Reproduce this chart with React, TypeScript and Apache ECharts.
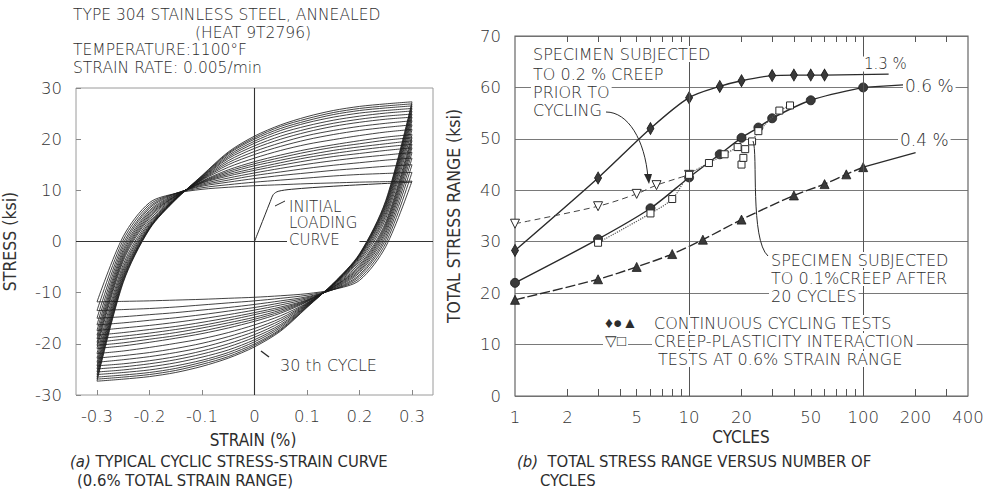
import React, { useEffect, useRef } from "react";
import * as echarts from "echarts";

const FONT = '"DejaVu Sans", "Liberation Sans", sans-serif';
const NARROW = '"Liberation Sans Narrow", "DejaVu Sans Condensed", "Liberation Sans", sans-serif';
const INK = "#2a2a2a";

// ---------- (a) cyclic stress-strain loops ----------
const strainTicks = [-0.3, -0.2, -0.1, 0, 0.1, 0.2, 0.3];
const stressTicks = [-30, -20, -10, 0, 10, 20, 30];
const branchStrain = [-0.3, -0.25, -0.2, -0.15, -0.1, -0.05, 0, 0.05, 0.1, 0.15, 0.2, 0.25, 0.3];
const loopCycles = [1, 2, 3, 4, 5, 6, 7, 8, 9, 10, 12, 14, 16, 18, 20, 22, 24, 26, 28, 30];
// stress (ksi) of the rising branch of each loop at branchStrain; the falling
// branch is the same curve turned about the origin (the loops are point-symmetric)
const upperBranchStress = [
  [-11.8, 1.0, 7.6, 9.4, 10.2, 10.6, 10.9, 11.1, 11.3, 11.45, 11.6, 11.7, 11.8],
  [-13.5, 0.3, 7.2, 9.4, 10.5, 11.1, 11.6, 12.0, 12.4, 12.8, 13.1, 13.3, 13.5],
  [-15.0, -0.4, 6.8, 9.4, 10.8, 11.6, 12.3, 12.9, 13.4, 13.9, 14.3, 14.7, 15.0],
  [-16.3, -1.0, 6.5, 9.3, 11.0, 12.0, 12.9, 13.6, 14.3, 14.9, 15.4, 15.9, 16.3],
  [-17.4, -1.6, 6.1, 9.2, 11.2, 12.4, 13.4, 14.3, 15.1, 15.8, 16.4, 16.9, 17.4],
  [-18.3, -2.1, 5.8, 9.1, 11.4, 12.8, 13.9, 14.9, 15.8, 16.6, 17.2, 17.8, 18.3],
  [-19.0, -2.6, 5.5, 9.0, 11.5, 13.1, 14.3, 15.4, 16.4, 17.2, 17.9, 18.5, 19.0],
  [-19.7, -3.0, 5.2, 8.9, 11.6, 13.4, 14.8, 15.9, 16.9, 17.8, 18.5, 19.1, 19.7],
  [-20.3, -3.4, 4.9, 8.9, 11.7, 13.7, 15.2, 16.4, 17.5, 18.4, 19.1, 19.8, 20.3],
  [-20.9, -3.8, 4.6, 8.8, 11.8, 14.0, 15.6, 16.9, 18.0, 18.9, 19.7, 20.4, 20.9],
  [-21.9, -4.5, 4.2, 8.7, 12.0, 14.5, 16.3, 17.8, 19.0, 19.9, 20.7, 21.4, 21.9],
  [-22.8, -5.1, 3.8, 8.6, 12.1, 15.0, 17.0, 18.6, 19.9, 20.9, 21.7, 22.3, 22.8],
  [-23.6, -5.6, 3.5, 8.5, 12.2, 15.4, 17.6, 19.3, 20.7, 21.7, 22.5, 23.1, 23.6],
  [-24.3, -6.1, 3.2, 8.5, 12.3, 15.8, 18.2, 20.0, 21.4, 22.5, 23.3, 23.9, 24.3],
  [-24.9, -6.5, 3.0, 8.4, 12.4, 16.2, 18.7, 20.6, 22.0, 23.1, 23.9, 24.5, 24.9],
  [-25.5, -6.9, 2.8, 8.4, 12.5, 16.5, 19.2, 21.2, 22.6, 23.7, 24.5, 25.1, 25.5],
  [-26.0, -7.2, 2.7, 8.3, 12.6, 16.8, 19.6, 21.7, 23.2, 24.3, 25.1, 25.6, 26.0],
  [-26.5, -7.5, 2.6, 8.3, 12.7, 17.1, 20.0, 22.1, 23.6, 24.8, 25.6, 26.1, 26.5],
  [-26.9, -7.8, 2.5, 8.2, 12.8, 17.3, 20.3, 22.5, 24.0, 25.2, 26.0, 26.5, 26.9],
  [-27.3, -8.0, 2.4, 8.2, 12.9, 17.5, 20.6, 22.8, 24.4, 25.6, 26.4, 26.9, 27.3],
];
const initialStrain = [0, 0.01, 0.02, 0.03, 0.036, 0.045, 0.07, 0.15, 0.3];
const initialStress = [0, 2.6, 5.2, 7.8, 9.2, 9.8, 10.2, 10.8, 11.6];

// ---------- (b) total stress range vs cycles ----------
const cycleLabels = [1, 2, 5, 10, 20, 50, 100, 200, 400];
const minorCycleTicks = [2, 3, 4, 5, 6, 7, 8, 9, 20, 30, 40, 50, 60, 70, 80, 90, 200, 300];
const rangeTicks = [0, 10, 20, 30, 40, 50, 60, 70];

const n13 = [1, 3, 6, 10, 15, 20, 30, 40, 50, 60];
const s13 = [28.3, 42.4, 52.0, 58.0, 60.2, 61.3, 62.3, 62.4, 62.4, 62.4];
const n13Lead = [60, 140];
const s13Lead = [62.4, 62.6];

const n06 = [1, 3, 6, 10, 15, 20, 25, 30, 50, 100];
const s06 = [22.0, 30.5, 36.5, 42.5, 47.0, 50.2, 52.2, 54.0, 57.5, 60.0];
const n06Lead = [100, 170];
const s06Lead = [60.0, 60.5];

const n04 = [1, 3, 5, 8, 12, 20, 40, 60, 80, 100];
const s04 = [18.7, 22.7, 25.1, 27.6, 30.4, 34.3, 39.0, 41.2, 43.1, 44.5];
const n04Lead = [100, 200];
const s04Lead = [44.5, 47.3];

const nPreCreep = [1, 3, 5, 6.5, 10];
const sPreCreep = [33.5, 36.9, 39.3, 41.0, 43.0];
const nCreepMain = [3, 6, 8, 10, 13, 16, 19];
const sCreepMain = [29.8, 35.5, 38.3, 43.0, 45.3, 47.0, 48.4];
const nCreepAfter = [20, 20.5, 21, 23, 25, 33, 38];
const sCreepAfter = [45.0, 46.3, 48.0, 49.5, 51.5, 55.5, 56.5];

const zip = (a: number[], b: number[]) => a.map((v, i) => [v, b[i]]);

function buildOption() {
  const series: any[] = [];

  loopCycles.forEach((c, i) => {
    const up = zip(branchStrain, upperBranchStress[i]);
    const down = up.map(([e, s]) => [-e, -s]).reverse();
    [up, down].forEach((d, k) => {
      series.push({
        type: "line",
        name: `cycle ${c} ${k ? "down" : "up"}`,
        xAxisIndex: 0,
        yAxisIndex: 0,
        data: d,
        showSymbol: false,
        smooth: 0.3,
        lineStyle: { color: "#1c1c1c", width: 0.9, opacity: 0.92 },
        silent: true,
        z: 3,
      });
    });
  });

  series.push({
    type: "line",
    name: "initial loading",
    xAxisIndex: 0,
    yAxisIndex: 0,
    data: zip(initialStrain, initialStress),
    showSymbol: false,
    smooth: 0.3,
    lineStyle: { color: INK, width: 1 },
    z: 3,
    markLine: {
      silent: true,
      symbol: "none",
      label: { show: false },
      lineStyle: { color: "#333", width: 1.1, type: "solid" },
      data: [{ xAxis: 0 }, { yAxis: 0 }],
    },
  });

  const filled = (name: string, n: number[], s: number[], symbol: string, size: any, dashed?: any) => ({
    type: "line",
    name,
    xAxisIndex: 1,
    yAxisIndex: 1,
    data: zip(n, s),
    symbol,
    symbolSize: size,
    showSymbol: true,
    smooth: 0.3,
    lineStyle: { color: INK, width: 1.4, type: dashed || "solid" },
    itemStyle: { color: "#3a3a3a", borderColor: "#1a1a1a", borderWidth: 0.8 },
    z: 4,
  });
  const lead = (name: string, n: number[], s: number[]) => ({
    type: "line",
    name,
    xAxisIndex: 1,
    yAxisIndex: 1,
    data: zip(n, s),
    showSymbol: false,
    lineStyle: { color: INK, width: 1.3 },
    z: 3,
  });
  series.push(filled("1.3%", n13, s13, "diamond", [7, 12]));
  series.push(lead("1.3% lead", n13Lead, s13Lead));
  series.push(filled("0.6%", n06, s06, "circle", 9));
  series.push(lead("0.6% lead", n06Lead, s06Lead));
  series.push(filled("0.4%", n04, s04, "triangle", 9, [10, 3]));
  series.push(lead("0.4% lead", n04Lead, s04Lead));

  series.push({
    type: "line",
    name: "0.2% creep prior",
    xAxisIndex: 1,
    yAxisIndex: 1,
    data: zip(nPreCreep, sPreCreep),
    symbol: "triangle",
    symbolRotate: 180,
    symbolSize: 9,
    smooth: 0.3,
    lineStyle: { color: "#444", width: 1, type: [6, 4] },
    itemStyle: { color: "#fff", borderColor: INK, borderWidth: 1 },
    z: 5,
  });
  series.push({
    type: "line",
    name: "creep-plasticity",
    xAxisIndex: 1,
    yAxisIndex: 1,
    data: zip(nCreepMain, sCreepMain),
    symbol: "rect",
    symbolSize: 7,
    smooth: 0.3,
    lineStyle: { color: "#555", width: 1.2, type: "dotted" },
    itemStyle: { color: "#fff", borderColor: INK, borderWidth: 1 },
    z: 5,
  });
  series.push({
    type: "line",
    name: "0.1% creep after 20",
    xAxisIndex: 1,
    yAxisIndex: 1,
    data: zip(nCreepAfter, sCreepAfter),
    symbol: "rect",
    symbolSize: 7,
    lineStyle: { color: "#555", width: 1.2, type: "dotted" },
    itemStyle: { color: "#fff", borderColor: INK, borderWidth: 1 },
    z: 5,
  });
  series.push({
    type: "line",
    name: "decade grid",
    xAxisIndex: 1,
    yAxisIndex: 1,
    data: [],
    z: 0,
    markLine: {
      silent: true,
      symbol: "none",
      label: { show: false },
      lineStyle: { color: "#555", width: 1, type: "solid" },
      data: [{ xAxis: 10 }, { xAxis: 100 }],
    },
  });

  const label = { color: "#333", fontFamily: FONT, fontSize: 16.5, fontWeight: 200 as any };

  const T = (text: string, x: number, y: number, o: any = {}) => ({
    type: "text",
    x,
    y,
    z: o.z ?? 10,
    silent: true,
    style: {
      text,
      fill: "#2d2d2d",
      fontFamily: o.family || FONT,
      fontSize: o.size || 16,
      fontWeight: 200,
      lineHeight: o.lh || 16,
      align: o.align || "left",
      verticalAlign: o.va || "middle",
      backgroundColor: o.bg,
      padding: o.bg ? [0, 2] : 0,
      rich: o.rich,
    },
  });

  const ital = (size: number) => ({ i: { fontStyle: "italic", fontFamily: NARROW, fontSize: size, fontWeight: 200 } });

  const graphic: any[] = [
    T("TYPE 304 STAINLESS STEEL, ANNEALED", 73, 15, { size: 15.5 }),
    T("(HEAT 9T2796)", 253, 32.5, { size: 15.5, align: "center" }),
    T("TEMPERATURE:1100°F", 73, 50, { size: 15.5 }),
    T("STRAIN RATE: 0.005/min", 73, 67.5, { size: 15.5 }),
    T("INITIAL\nLOADING\nCURVE", 287, 223, { size: 15, bg: "#fff", lh: 16.5 }),
    T("30 th CYCLE", 280, 365, { size: 16 }),
    { type: "line", z: 10, silent: true, shape: { x1: 285, y1: 201, x2: 275, y2: 206 }, style: { stroke: INK, lineWidth: 1 } },
    { type: "line", z: 10, silent: true, shape: { x1: 261, y1: 351, x2: 269, y2: 357 }, style: { stroke: INK, lineWidth: 1.4 } },
    T("STRAIN (%)", 253, 440, { size: 17, align: "center", family: NARROW }),
    T("{i|(a)} TYPICAL CYCLIC STRESS-STRAIN CURVE", 70, 461, { size: 16.5, family: NARROW, rich: ital(16.5), lh: 16.5 }),
    T("(0.6% TOTAL STRAIN RANGE)", 77, 480, { size: 16.5, family: NARROW, lh: 16.5 }),

    T("SPECIMEN SUBJECTED", 531, 54, { size: 16, bg: "#fff" }),
    T("TO 0.2 % CREEP", 531, 74, { size: 16, bg: "#fff" }),
    T("PRIOR TO", 531, 92, { size: 16, bg: "#fff" }),
    T("CYCLING", 531, 110, { size: 16, bg: "#fff" }),
    {
      type: "bezierCurve",
      z: 10,
      silent: true,
      shape: { x1: 606, y1: 112, cpx1: 628, cpy1: 112, cpx2: 645, cpy2: 140, x2: 648, y2: 178 },
      style: { stroke: INK, lineWidth: 1, fill: null },
    },
    {
      type: "polygon",
      z: 10,
      silent: true,
      shape: { points: [[644, 174], [652, 174], [649, 184]] },
      style: { fill: INK },
    },
    T("1.3 %", 862, 64, { size: 15, bg: "#fff", lh: 15 }),
    T("0.6 %", 903, 86, { size: 17, bg: "#fff", lh: 17 }),
    T("0.4 %", 898, 140, { size: 17, bg: "#fff", lh: 17 }),
    T("SPECIMEN SUBJECTED", 769, 260, { size: 16, bg: "#fff" }),
    T("TO 0.1%CREEP AFTER", 769, 278, { size: 16, bg: "#fff" }),
    T("20 CYCLES", 769, 296, { size: 16, bg: "#fff" }),
    {
      type: "bezierCurve",
      z: 10,
      silent: true,
      shape: { x1: 768, y1: 256, cpx1: 750, cpy1: 240, cpx2: 758, cpy2: 152, x2: 753, y2: 141 },
      style: { stroke: INK, lineWidth: 1, fill: null },
    },
    T("♦●▲", 603, 323, { size: 15.5, bg: "#fff" }),
    T("▽□", 603, 341, { size: 15, bg: "#fff" }),
    T("CONTINUOUS CYCLING TESTS", 652, 323, { size: 16, bg: "#fff" }),
    T("CREEP-PLASTICITY INTERACTION", 652, 341, { size: 16, bg: "#fff" }),
    T("TESTS AT 0.6% STRAIN RANGE", 656, 359, { size: 16, bg: "#fff" }),
    T("CYCLES", 741, 437, { size: 17, align: "center", family: NARROW }),
    T("{i|(b)}  TOTAL STRESS RANGE VERSUS NUMBER OF", 517, 461, { size: 16.5, family: NARROW, rich: ital(16.5), lh: 16.5 }),
    T("CYCLES", 540, 480, { size: 16.5, family: NARROW, lh: 16.5 }),
  ];

  return {
    animation: false,
    backgroundColor: "#fff",
    grid: [
      { left: 73, top: 88, width: 360, height: 307, show: true, borderColor: "#9a9a9a", borderWidth: 1, backgroundColor: "transparent" },
      { left: 515, top: 36, width: 453, height: 360, show: true, borderColor: "#666", borderWidth: 1.2, backgroundColor: "transparent" },
    ],
    xAxis: [
      {
        type: "value",
        gridIndex: 0,
        min: -0.34,
        max: 0.34,
        axisLine: { show: false, onZero: false },
        axisTick: { show: true, inside: true, length: 5, customValues: strainTicks, lineStyle: { color: "#888" } },
        axisLabel: {
          ...label,
          margin: 13,
          customValues: strainTicks,
          formatter: (v: number) => (Math.abs(v) < 1e-9 ? "0" : v.toFixed(1)),
        },
        splitLine: { show: false },
      },
      {
        type: "log",
        logBase: 10,
        gridIndex: 1,
        min: 1,
        max: 400,
        axisLine: { show: false, onZero: false },
        axisTick: { show: true, inside: true, length: 7, customValues: minorCycleTicks, lineStyle: { color: "#555" } },
        axisLabel: { ...label, margin: 13, customValues: cycleLabels, formatter: (v: number) => String(Math.round(v)) },
        splitLine: { show: false },
        minorTick: { show: false },
      },
      {
        type: "log",
        logBase: 10,
        gridIndex: 1,
        position: "top",
        min: 1,
        max: 400,
        axisLine: { show: false, onZero: false },
        axisTick: { show: true, inside: true, length: 6, customValues: minorCycleTicks, lineStyle: { color: "#555" } },
        axisLabel: { show: false },
        splitLine: { show: false },
      },
    ],
    yAxis: [
      {
        type: "value",
        gridIndex: 0,
        min: -30,
        max: 30,
        interval: 10,
        axisLine: { show: false, onZero: false },
        axisTick: { show: true, inside: true, length: 5, lineStyle: { color: "#888" } },
        axisLabel: { ...label, margin: 14, customValues: stressTicks },
        splitLine: { show: false },
        name: "STRESS (ksi)",
        nameLocation: "middle",
        nameGap: 57,
        nameRotate: 90,
        nameTextStyle: { ...label, fontFamily: NARROW, fontSize: 17.5 },
      },
      {
        type: "value",
        gridIndex: 1,
        min: 0,
        max: 70,
        interval: 10,
        axisLine: { show: false, onZero: false },
        axisTick: { show: false },
        axisLabel: { ...label, margin: 14, customValues: rangeTicks },
        splitLine: { show: true, lineStyle: { color: "#6a6a6a", width: 0.9 } },
        name: "TOTAL STRESS RANGE (ksi)",
        nameLocation: "middle",
        nameGap: 52,
        nameRotate: 90,
        nameTextStyle: { ...label, fontFamily: NARROW, fontSize: 17.5 },
      },
    ],
    series,
    graphic,
  };
}

export default function App() {
  const ref = useRef<HTMLDivElement>(null);
  useEffect(() => {
    if (!ref.current) return;
    const chart = echarts.init(ref.current, null, { renderer: "svg" });
    chart.setOption(buildOption() as any);
    return () => chart.dispose();
  }, []);
  return (
    <div
      ref={ref}
      style={{ position: "absolute", left: 0, top: 0, width: 997, height: 499, background: "#fff" }}
    />
  );
}
